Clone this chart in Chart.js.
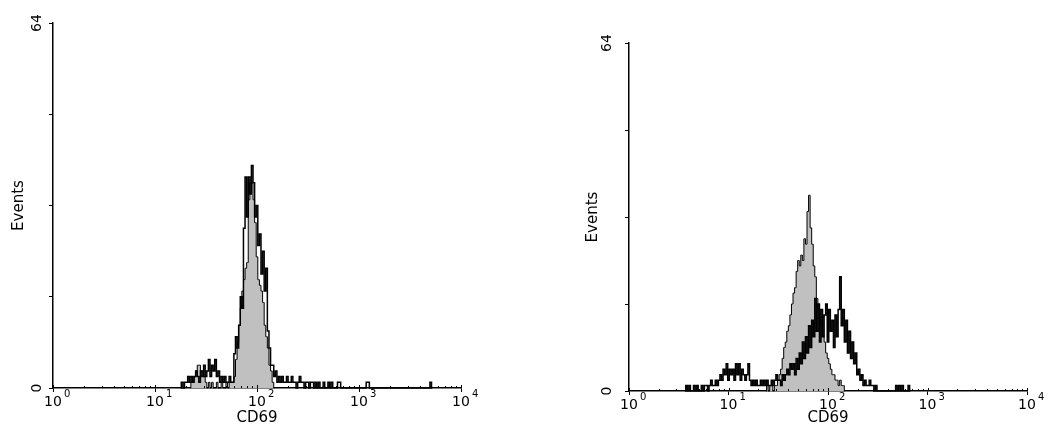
<!DOCTYPE html>
<html>
<head>
<meta charset="utf-8">
<script src="https://cdn.jsdelivr.net/npm/chart.js@4.4.1/dist/chart.umd.min.js"></script>
<style>
  html, body { margin: 0; padding: 0; background: #fff; }
  body { width: 1048px; height: 434px; position: relative; overflow: hidden; }
  .panel { position: absolute; top: 0; width: 524px; height: 434px; }
</style>
</head>
<body>
<div class="panel" style="left:0"><canvas id="cd69Left"></canvas></div>
<div class="panel" style="left:524px"><canvas id="cd69Right"></canvas></div>
<script>
// 256 channel log histograms, 64 channels per decade
const CHANNELS_PER_DECADE = 64;
const decadeTicks = [1, 10, 100, 1000, 10000];
const decadeBase = '10';
const decadeExponents = ['0', '1', '2', '3', '4'];
const eventTicks = [0, 16, 32, 48, 64];
const eventLabels = { 0: '0', 64: '64' };

// left panel - grey = control, black = stained
const leftShadedStart = 86;
const leftShaded = [
    0, 1, 1, 2, 3, 4, 4, 3, 3, 2,
    1, 0, 1, 0, 1, 0, 0, 1, 0, 0,
    1, 0, 0, 1, 0, 1, 1, 1, 2, 5,
    8, 11, 14, 17, 19, 21, 22, 33, 36, 36,
    33, 29, 23, 19, 18, 17, 15, 11, 9, 7,
    4, 3, 1, 0
];
const leftOpenStart = 80;
const leftOpen = [
    0, 1, 0, 1, 1, 2, 1, 2, 1, 2,
    3, 2, 1, 3, 2, 4, 2, 3, 5, 2,
    4, 3, 5, 2, 3, 1, 2, 1, 2, 1,
    1, 2, 1, 1, 6, 9, 7, 11, 16, 14,
    28, 37, 30, 37, 34, 39, 36, 30, 32, 25,
    27, 20, 24, 17, 21, 10, 7, 4, 4, 2,
    3, 1, 2, 1, 2, 1, 1, 2, 1, 1,
    2, 1, 1, 0, 1, 2, 1, 1, 0, 1,
    1, 0, 1, 1, 0, 1, 0, 1, 0, 0,
    1, 0, 0, 1, 0, 1, 0, 0, 0, 1,
    1, 0, 0, 0, 0, 0, 0, 0, 0, 0,
    0, 0, 0, 0, 0, 0, 0, 1, 1, 0,
    0, 0, 0, 0, 0, 0, 0, 0, 0, 0,
    0, 0, 0, 0, 0, 0, 0, 0, 0, 0,
    0, 0, 0, 0, 0, 0, 0, 0, 0, 0,
    0, 0, 0, 0, 0, 0, 0, 1, 0
];

// right panel
const rightShadedStart = 88;
const rightShaded = [
    0, 1, 0, 1, 1, 0, 1, 1, 2, 3,
    4, 6, 8, 9, 11, 12, 14, 16, 18, 19,
    22, 24, 23, 25, 24, 28, 27, 33, 36, 30,
    27, 23, 21, 17, 15, 13, 12, 10, 9, 7,
    6, 5, 4, 3, 3, 2, 2, 1, 2, 1,
    1, 0
];
const rightOpenStart = 36;
const rightOpen = [
    0, 1, 0, 1, 0, 0, 1, 0, 1, 0,
    0, 1, 0, 1, 1, 0, 1, 2, 1, 1,
    2, 1, 2, 3, 2, 4, 3, 5, 2, 4,
    3, 4, 2, 5, 3, 5, 2, 4, 3, 2,
    3, 5, 2, 1, 2, 1, 2, 1, 1, 2,
    1, 2, 1, 2, 1, 1, 2, 1, 2, 3,
    2, 2, 1, 3, 2, 3, 4, 3, 5, 4,
    5, 3, 6, 4, 7, 5, 9, 6, 10, 7,
    12, 8, 13, 10, 17, 11, 16, 9, 15, 10,
    14, 16, 9, 15, 11, 13, 8, 14, 10, 15,
    21, 12, 15, 9, 13, 7, 11, 6, 9, 5,
    7, 3, 4, 2, 3, 1, 2, 1, 1, 2,
    1, 1, 0, 1, 0, 0, 0, 0, 0, 0,
    0, 0, 0, 0, 0, 0, 1, 0, 1, 0,
    1, 0, 0, 0, 1, 0
];

function toPoints(start, counts) {
    return counts.map((c, i) => ({ x: Math.pow(10, (start + i) / CHANNELS_PER_DECADE), y: c }));
}

const axisDecor = {
    id: 'axisDecor',
    afterDraw(chart, args, opts) {
        const { ctx, scales: { x, y } } = chart;
        const axisY = y.getPixelForValue(0);
        ctx.save();
        ctx.strokeStyle = '#000';
        ctx.lineWidth = 1;
        // little marks above the axis at every log step
        for (const d of decadeTicks.slice(0, -1)) {
            for (let k = 1; k <= 10; k++) {
                const px = Math.round(x.getPixelForValue(d * k)) + 0.5;
                ctx.beginPath();
                ctx.moveTo(px, axisY - (k === 1 || k === 10 ? 3 : 2));
                ctx.lineTo(px, axisY);
                ctx.stroke();
            }
        }
        ctx.fillStyle = '#000';
        // exponents next to the "10" tick labels
        ctx.font = '10px "DejaVu Sans"';
        ctx.textAlign = 'left';
        ctx.textBaseline = 'top';
        decadeTicks.forEach((v, i) => {
            ctx.fillText(decadeExponents[i], x.getPixelForValue(v) + 11, axisY + 1);
        });
        // rotated count labels at both ends of the y axis
        ctx.font = '14px "DejaVu Sans"';
        ctx.textAlign = 'center';
        ctx.textBaseline = 'middle';
        for (const v of eventTicks) {
            const label = eventLabels[v];
            if (!label) continue;
            ctx.save();
            ctx.translate(y.right - opts.labelOffset, y.getPixelForValue(v));
            ctx.rotate(-Math.PI / 2);
            ctx.fillText(label, 0, 0);
            ctx.restore();
        }
        ctx.restore();
    }
};

function createHistogram(canvasId, shaded, open, layout) {
    const ctx = document.getElementById(canvasId).getContext('2d');
    new Chart(ctx, {
        type: 'line',
        data: {
            datasets: [{
                label: 'CD69 stained',
                data: open,
                stepped: 'middle',
                fill: false,
                borderColor: '#000',
                borderWidth: 1.5,
                pointRadius: 0,
                order: 0,
                clip: 4
            }, {
                label: 'Control',
                data: shaded,
                stepped: 'middle',
                fill: 'origin',
                backgroundColor: '#c0c0c0',
                borderColor: '#000',
                borderWidth: 1,
                pointRadius: 0,
                order: 1,
                clip: 4
            }]
        },
        options: {
            animation: false,
            responsive: true,
            maintainAspectRatio: false,
            layout: { padding: { left: 0, top: layout.top, right: layout.right, bottom: 0 } },
            plugins: {
                legend: { display: false },
                tooltip: { enabled: false },
                axisDecor: { labelOffset: layout.labelOffset }
            },
            scales: {
                x: {
                    type: 'logarithmic',
                    min: 1,
                    max: 10000,
                    afterBuildTicks: (scale) => { scale.ticks = decadeTicks.map(v => ({ value: v })); },
                    afterFit: (scale) => { scale.height = layout.xHeight; },
                    border: { display: true, color: '#000', width: 1.5 },
                    grid: { drawOnChartArea: false, drawTicks: true, tickLength: 4, tickColor: '#000', tickWidth: 1 },
                    ticks: {
                        autoSkip: false,
                        maxRotation: 0,
                        padding: 2,
                        color: '#000',
                        font: { family: 'DejaVu Sans', size: 14 },
                        callback: () => decadeBase
                    },
                    title: {
                        display: true,
                        text: 'CD69',
                        color: '#000',
                        font: { family: 'DejaVu Sans', size: 15 },
                        padding: { top: 0, bottom: 6.5 }
                    }
                },
                y: {
                    min: 0,
                    max: 64,
                    afterBuildTicks: (scale) => { scale.ticks = eventTicks.map(v => ({ value: v })); },
                    afterFit: (scale) => { scale.width = layout.yWidth; },
                    border: { display: true, color: '#000', width: 1.5 },
                    grid: { drawOnChartArea: false, drawTicks: true, tickLength: 4, tickColor: '#000', tickWidth: 1 },
                    ticks: { display: false },
                    title: {
                        display: true,
                        text: 'Events',
                        color: '#000',
                        font: { family: 'DejaVu Sans', size: 15 },
                        padding: { top: layout.titleX - 9, bottom: 0 }
                    }
                }
            }
        },
        plugins: [axisDecor]
    });
}

createHistogram('cd69Left', toPoints(leftShadedStart, leftShaded), toPoints(leftOpenStart, leftOpen),
    { top: 23, right: 63, xHeight: 46, yWidth: 53, labelOffset: 16, titleX: 19 });
createHistogram('cd69Right', toPoints(rightShadedStart, rightShaded), toPoints(rightOpenStart, rightOpen),
    { top: 43, right: 21, xHeight: 43, yWidth: 105, labelOffset: 22, titleX: 69 });
</script>
</body>
</html>
